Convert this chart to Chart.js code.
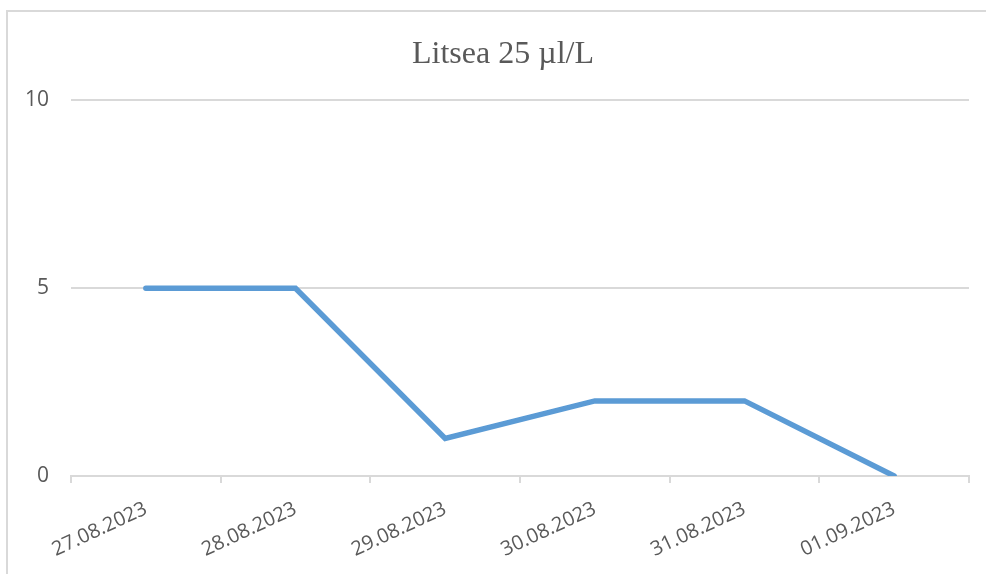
<!DOCTYPE html>
<html>
<head>
<meta charset="utf-8">
<script src="https://cdn.jsdelivr.net/npm/chart.js@4"></script>
<style>
  html, body { margin: 0; padding: 0; background: #ffffff; }
  #wrap { position: relative; width: 986px; height: 574px; overflow: hidden; }
  #frame { position: absolute; left: 6px; top: 10px; width: 1200px; height: 800px; border: 2px solid #d9d9d9; box-sizing: border-box; }
  canvas { position: absolute; left: 0; top: 0; }
</style>
</head>
<body>
<div id="wrap">
  <div id="frame"></div>
  <canvas id="c" width="986" height="574"></canvas>
</div>
<script>
const chartTitle = 'Litsea 25 µl/L';
const categories = ['27.08.2023', '28.08.2023', '29.08.2023', '30.08.2023', '31.08.2023', '01.09.2023'];
const values = [5, 5, 1, 2, 2, 0];
const yTicks = [0, 5, 10];

const textColor = '#595959';
const gridColor = '#d9d9d9';

// shift the title box so it is centred like the reference
const titleShift = {
  id: 'titleShift',
  afterLayout(chart) {
    if (chart.titleBlock) { chart.titleBlock.left += 37; }
  }
};

new Chart(document.getElementById('c'), {
  type: 'line',
  data: {
    labels: categories,
    datasets: [{
      data: values,
      borderColor: '#5b9bd5',
      borderWidth: 5.5,
      borderCapStyle: 'round',
      borderJoinStyle: 'miter',
      pointRadius: 0,
      pointHoverRadius: 0,
      tension: 0,
      fill: false
    }]
  },
  plugins: [titleShift],
  options: {
    responsive: false,
    animation: false,
    events: [],
    layout: { padding: { left: 0, right: 17, top: 0, bottom: 0 } },
    plugins: {
      legend: { display: false },
      tooltip: { enabled: false },
      title: {
        display: true,
        text: chartTitle,
        color: textColor,
        font: { family: '"Liberation Serif", "Times New Roman", serif', size: 32, weight: 'normal', lineHeight: 1.2 },
        padding: { top: 35, bottom: 27 }
      }
    },
    scales: {
      x: {
        type: 'category',
        offset: true,
        grid: {
          display: true,
          offset: true,
          drawOnChartArea: false,
          drawTicks: true,
          tickLength: 7,
          color: gridColor,
          lineWidth: 2
        },
        border: { display: true, color: gridColor, width: 2 },
        ticks: {
          autoSkip: false,
          minRotation: 25,
          maxRotation: 25,
          padding: 14,
          color: textColor,
          font: { family: '"Open Sans", sans-serif', size: 20 }
        },
        afterFit(scale) { scale.height = 98; }
      },
      y: {
        min: 0,
        max: 10,
        afterBuildTicks(scale) { scale.ticks = yTicks.map(v => ({ value: v })); },
        grid: {
          color: gridColor,
          lineWidth: 2,
          drawTicks: false
        },
        border: { display: false },
        ticks: {
          padding: 22,
          color: textColor,
          font: { family: '"Open Sans", sans-serif', size: 21 }
        },
        afterFit(scale) { scale.width = 71; }
      }
    }
  }
});
</script>
</body>
</html>
